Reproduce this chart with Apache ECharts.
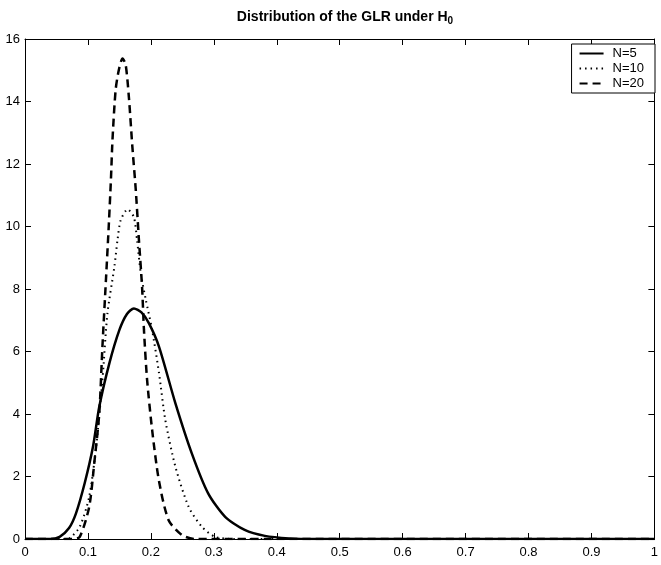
<!DOCTYPE html>
<html>
<head>
  <meta charset="utf-8">
</head>
<body style="margin: 0; background: #fff">
  <div id="container" style="width: 661px; height: 565px"></div>
  <script src="https://cdn.jsdelivr.net/npm/echarts@6.0.0/dist/echarts.min.js"></script>
  <script type="text/javascript">
    // values
    const xTicks = ['0', '0.1', '0.2', '0.3', '0.4', '0.5', '0.6', '0.7', '0.8', '0.9', '1'];
    const seriesNames = ['N=5', 'N=10', 'N=20'];

    const n5X = [0, 0.04, 0.055, 0.07, 0.081, 0.095, 0.108, 0.118, 0.134, 0.150, 0.162, 0.173, 0.185, 0.197, 0.213, 0.239, 0.265, 0.291, 0.318, 0.349, 0.381, 0.42, 0.46, 1];
    const n5Y = [0, 0, 0.07, 0.35, 0.82, 1.8, 2.95, 4.23, 5.62, 6.69, 7.2, 7.38, 7.25, 6.9, 6.15, 4.34, 2.74, 1.46, 0.71, 0.29, 0.1, 0.02, 0, 0];

    const n10X = [0, 0.06, 0.071, 0.087, 0.102, 0.113, 0.123, 0.131, 0.142, 0.147, 0.152, 0.163, 0.173, 0.178, 0.184, 0.192, 0.202, 0.213, 0.223, 0.239, 0.26, 0.281, 0.302, 0.33, 1];
    const n10Y = [0, 0, 0.03, 0.39, 1.35, 2.95, 5.09, 7.22, 8.71, 9.57, 10.2, 10.55, 10.3, 9.57, 8.5, 7.65, 6.69, 5.3, 3.8, 2.31, 1.03, 0.39, 0.07, 0, 0];

    const n20X = [0, 0.075, 0.087, 0.102, 0.110, 0.118, 0.123, 0.1286, 0.133, 0.1365, 0.139, 0.144, 0.149, 0.155, 0.160, 0.165, 0.1706, 0.176, 0.181, 0.186, 0.189, 0.194, 0.202, 0.2126, 0.228, 0.249, 0.27, 1];
    const n20Y = [0, 0, 0.07, 1.03, 2.42, 4.02, 6.15, 8.29, 9.99, 11.49, 12.77, 14.37, 15.0, 15.38, 15.17, 14.15, 12.55, 11.17, 9.57, 8.07, 6.69, 5.09, 3.49, 1.89, 0.61, 0.13, 0, 0];

    function pairs(xs, ys) {
      return xs.map(function (x, i) { return [x, ys[i]]; });
    }

    const font = 'Liberation Sans';
    const chart = echarts.init(document.getElementById('container'), null, { renderer: 'canvas' });

    const axisBase = {
      axisLine: { show: true, onZero: false, lineStyle: { color: '#000', width: 1 } },
      axisTick: { show: true, inside: true, length: 6, lineStyle: { color: '#000', width: 1 } },
      splitLine: { show: false }
    };

    const option = {
      animation: false,
      backgroundColor: '#fff',
      title: {
        text: 'Distribution of the GLR under H{sub|0}',
        left: 340,
        top: 4,
        textAlign: 'center',
        textStyle: {
          fontFamily: font,
          fontSize: 14,
          fontWeight: 'bold',
          color: '#000',
          rich: {
            sub: { fontFamily: font, fontSize: 10, fontWeight: 'bold', color: '#000', verticalAlign: 'bottom', padding: [7, 0, 0, 0] }
          }
        }
      },
      grid: { left: 25, right: 1, top: 39, bottom: 26, containLabel: false },
      legend: {
        orient: 'vertical',
        right: 6,
        top: 44,
        data: seriesNames,
        borderColor: '#000',
        borderWidth: 1,
        backgroundColor: '#fff',
        padding: [3, 11, 3, 7],
        itemGap: 2,
        itemWidth: 24,
        itemHeight: 14,
        itemStyle: { opacity: 0 },
        textStyle: { fontFamily: font, fontSize: 13, color: '#000', padding: [0, 0, 0, 4] }
      },
      xAxis: [
        Object.assign({}, axisBase, {
          type: 'value', min: 0, max: 1, interval: 0.1, position: 'bottom',
          axisLabel: {
            fontFamily: font, fontSize: 13, color: '#000', margin: 7,
            formatter: function (v) { return xTicks[Math.round(v * 10)]; }
          }
        }),
        Object.assign({}, axisBase, {
          type: 'value', min: 0, max: 1, interval: 0.1, position: 'top',
          axisLabel: { show: false }
        })
      ],
      yAxis: [
        Object.assign({}, axisBase, {
          type: 'value', min: 0, max: 16, interval: 2, position: 'left',
          axisLabel: { fontFamily: font, fontSize: 13, color: '#000', margin: 5 }
        }),
        Object.assign({}, axisBase, {
          type: 'value', min: 0, max: 16, interval: 2, position: 'right',
          axisLabel: { show: false }
        })
      ],
      series: [
        {
          name: seriesNames[0], type: 'line', showSymbol: false, symbol: 'none', smooth: 0.25,
          lineStyle: { color: '#000', width: 2.5, type: 'solid' },
          itemStyle: { color: '#000' },
          data: pairs(n5X, n5Y), z: 3
        },
        {
          name: seriesNames[1], type: 'line', showSymbol: false, symbol: 'none', smooth: 0.25,
          lineStyle: { color: '#000', width: 2, type: [1.5, 4] },
          itemStyle: { color: '#000' },
          data: pairs(n10X, n10Y), z: 2
        },
        {
          name: seriesNames[2], type: 'line', showSymbol: false, symbol: 'none', smooth: 0.25,
          lineStyle: { color: '#000', width: 2.5, type: [8, 5] },
          itemStyle: { color: '#000' },
          data: pairs(n20X, n20Y), z: 2
        }
      ]
    };

    chart.setOption(option);
    window.addEventListener('resize', chart.resize);
  </script>
</body>
</html>
